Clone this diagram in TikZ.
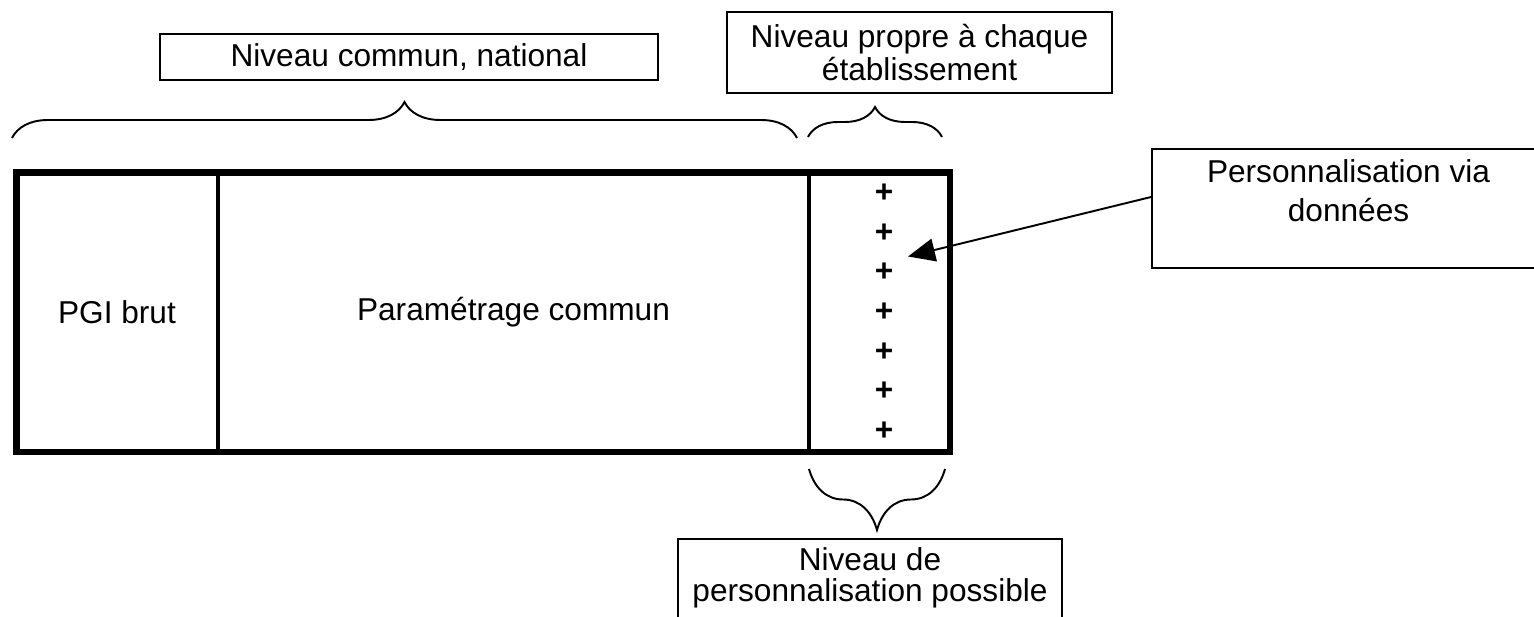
\documentclass[tikz,border=0pt]{standalone}
\usepackage{fontspec}
\setmainfont{Liberation Sans}
\usetikzlibrary{arrows.meta,positioning,decorations.pathreplacing}

\begin{document}
\begin{tikzpicture}[
    x=0.02cm, y=-0.02cm,
    thick,
    node distance=0.795cm,
    every node/.style={font=\fontsize{18}{18.7}\selectfont},
    level box/.style={draw,line width=1.1pt,align=center,inner sep=0pt},
    label text/.style={align=center,inner sep=0pt},
    plus sign/.style={inner sep=0pt,font=\fontsize{18}{18.7}\selectfont\bfseries},
    outer frame/.style={line width=3.8pt},
    inner rule/.style={line width=2.1pt},
    level brace/.style={decorate,line width=1.1pt},
    pointer/.style={line width=1.1pt,-{Triangle[length=0.54cm,width=0.46cm]}}]

  \useasboundingbox (0,0) rectangle (1534,617);

  % the three columns
  \draw[outer frame] (16.5,172.5) rectangle (950,452);
  \draw[inner rule] (218,172.5) -- (218,452);
  \draw[inner rule] (809,172.5) -- (809,452);

  \node[label text] (PGI) at (117,312) {PGI brut};
  \node[label text] (Param) at (513.5,312) {Paramétrage commun};

  \node[plus sign] (Plus1) at (884,193) {+};
  \node[plus sign] (Plus2) [below of=Plus1] {+};
  \node[plus sign] (Plus3) [below of=Plus2] {+};
  \node[plus sign] (Plus4) [below of=Plus3] {+};
  \node[plus sign] (Plus5) [below of=Plus4] {+};
  \node[plus sign] (Plus6) [below of=Plus5] {+};
  \node[plus sign] (Plus7) [below of=Plus6] {+};

  % braces
  \draw[level brace,decoration={brace,amplitude=0.72cm}] (12,138) -- (797,138);
  \draw[level brace,decoration={brace,amplitude=0.6cm}] (808,137) -- (942,137);
  \draw[level brace,decoration={brace,amplitude=1.22cm}] (945,469) -- (809,469);

  % level boxes
  \node[level box,minimum width=9.96cm,minimum height=0.92cm] (Commun) at (409,57) {Niveau commun, national};
  \node[level box,minimum width=7.7cm,minimum height=1.62cm] (Propre) at (919.5,52.5) {Niveau propre à chaque\\établissement};

  \node[level box,minimum width=7.86cm,minimum height=2.38cm] (Perso) at (1348.5,208.5) {};
  \node[label text,below=0.22cm of Perso.north] (PersoText) {Personnalisation via\\[3.5pt]données};

  \node[level box,minimum width=7.68cm,minimum height=2.02cm] (Possible) at (870,589.5) {};
  \node[label text,below=0.18cm of Possible.north] (PossibleText) {Niveau de\\[-1pt]personnalisation possible};

  \coordinate (Target) at ([xshift=0.48cm,yshift=0.32cm]Plus3.center);
  \draw[pointer] ([yshift=0.23cm]Perso.west) -- (Target);

\end{tikzpicture}
\end{document}
